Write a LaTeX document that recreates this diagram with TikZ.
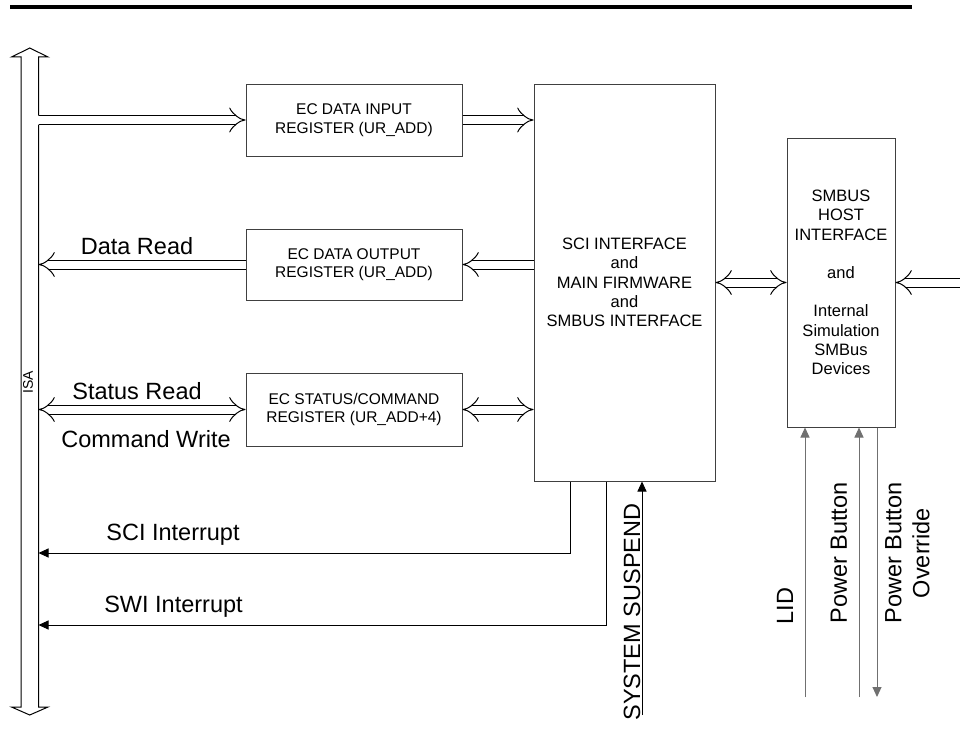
\documentclass[tikz,border=0pt]{standalone}
\usepackage{fontspec}
\setmainfont{Liberation Sans}
\usetikzlibrary{arrows.meta,positioning,calc}
\definecolor{ink}{HTML}{000000}
\definecolor{frame}{HTML}{404040}
\definecolor{wire}{HTML}{707070}
\tikzset{
  every node/.style={font=\fontsize{15.5}{18.5}\selectfont,text=ink},
  reg/.style={draw=frame,line width=1pt,minimum width=216pt,minimum height=72pt,align=center,inner sep=0},
  block/.style={draw=frame,line width=1pt,align=center,inner sep=0,font=\fontsize{16.5}{19.2}\selectfont},
  fat/.style={line width=1pt,draw=ink,double=white,double distance=8pt,-{Implies}},
  fatboth/.style={fat,{Implies}-{Implies}},
  sigarr/.style={-{Triangle[length=10pt,width=9pt]},line width=1pt,draw=ink},
  wirearr/.style={sigarr,draw=wire,fill=wire},
  lbl/.style={font=\fontsize{23.5}{28}\selectfont,inner sep=0},
  vlbl/.style={lbl,rotate=90}
}
\begin{document}
\begin{tikzpicture}[x=1pt,y=-1pt]
\path[use as bounding box] (0,0) rectangle (960,752);
\draw[line width=4pt] (10,7) -- (912,7);
% ISA bus
\coordinate (busr) at (38.5,0);
\draw[line width=1pt] (38.5,115.5) -- (38.5,57) -- (48,57) -- (29.75,48) -- (11.5,57) -- (21,57)
  -- (21,707) -- (11.5,707) -- (29.75,715) -- (48,707) -- (38.5,707) -- (38.5,124.5);
\node[font=\fontsize{14}{16}\selectfont,rotate=90,inner sep=0] (isa) at (28,382) {ISA};
% registers and blocks
\node[reg] (inreg) at (354,120) {EC DATA INPUT\\REGISTER (UR\_ADD)};
\node[reg,minimum height=71pt] (outreg) at (354,264.5) {EC DATA OUTPUT\\REGISTER (UR\_ADD)};
\node[reg,minimum height=73pt] (streg) at (354,409.5) {EC STATUS/COMMAND\\REGISTER (UR\_ADD+4)};
\node[block,minimum width=181pt,minimum height=397pt] (fw) at (624.5,282.5)
  {SCI INTERFACE\\and\\MAIN FIRMWARE\\and\\SMBUS INTERFACE};
\node[block,minimum width=108pt,minimum height=289pt] (smb) at (841,282.5)
  {SMBUS\\HOST\\INTERFACE\\[19.2pt]and\\[19.2pt]Internal\\Simulation\\SMBus\\Devices};
% data paths
\draw[fat] (busr |- inreg.west) -- (inreg.west);
\draw[fat] (inreg.east) -- (fw.west |- inreg.east);
\draw[fat] (fw.west |- outreg.east) -- (outreg.east);
\draw[fat] (outreg.west) -- (busr |- outreg.west);
\draw[fatboth] (busr |- streg.west) -- (streg.west);
\draw[fatboth] (streg.east) -- (fw.west |- streg.east);
\draw[fatboth] (fw.east) -- (smb.west);
\coordinate (ext) at (961,282.5);
\draw[fat] (ext) -- (smb.east);
\node[lbl] (dread) at (137,246) {Data Read};
\node[lbl] (sread) at (137,391) {Status Read};
\node[lbl] (cwrite) at (146,439) {Command Write};
% interrupts
\draw[sigarr] (fw.south -| 570,0) |- (busr |- 0,553);
\draw[sigarr] (fw.south -| 606,0) |- (busr |- 0,625);
\node[lbl] (sci) at (173,535) {SCI Interrupt};
\node[lbl] (swi) at (173.5,607) {SWI Interrupt};
\coordinate (susp) at (642,715);
\draw[sigarr] (susp) -- (susp |- fw.south);
\node[vlbl] (suspl) at (632,612) {SYSTEM SUSPEND};
% switches
\coordinate (lid) at (805,697);
\coordinate (pwr) at (859,697);
\coordinate (ovr) at (877,697);
\draw[wirearr] (lid) -- (lid |- smb.south);
\draw[wirearr] (pwr) -- (pwr |- smb.south);
\draw[wirearr] (smb.south -| ovr) -- (ovr);
\node[vlbl] (lidl) at (785,606) {LID};
\node[vlbl] (pwrl) at (839,553) {Power Button};
\node[vlbl,align=center] (ovrl) at (907.5,553) {Power Button\\Override};
\end{tikzpicture}
\end{document}
